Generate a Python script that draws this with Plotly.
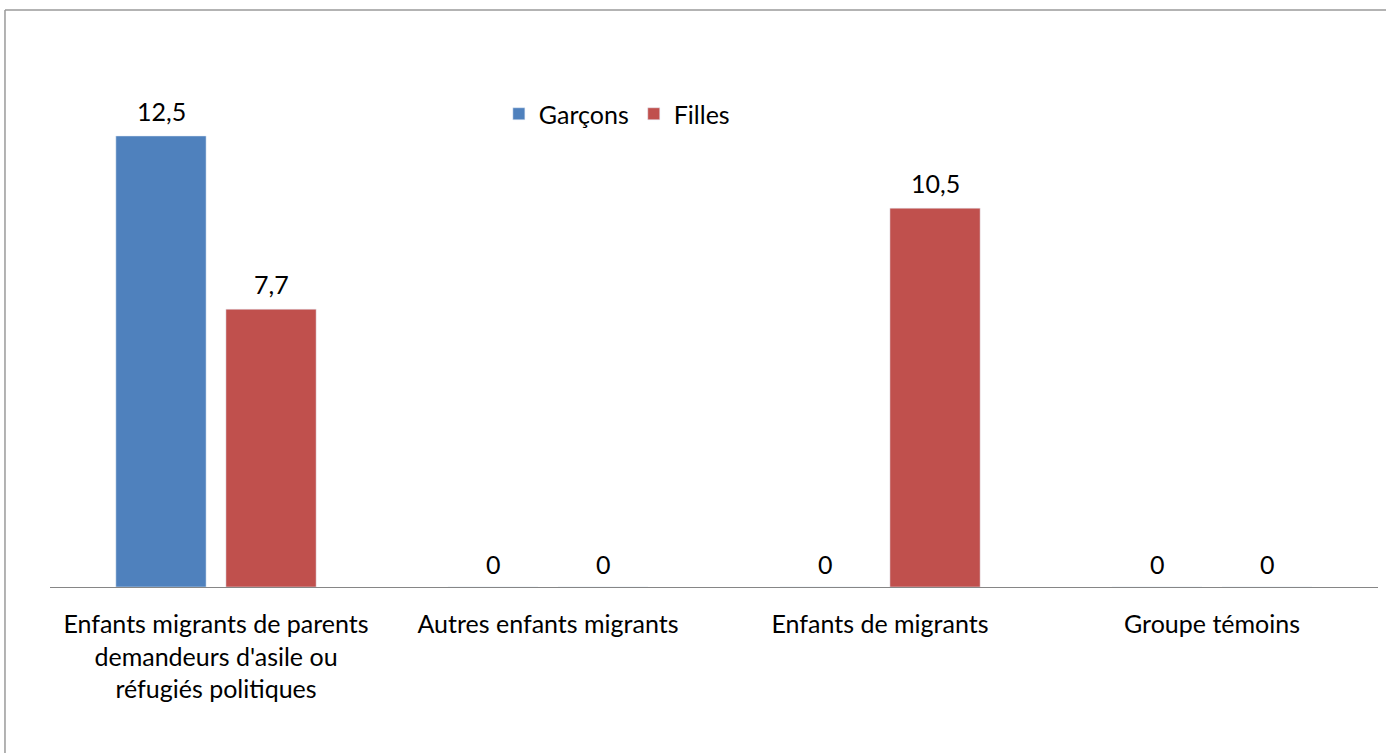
import plotly.graph_objs as go

# Data
categories = [
    "Enfants migrants de parents<br>demandeurs d'asile ou<br>réfugiés politiques",
    "Autres enfants migrants",
    "Enfants de migrants",
    "Groupe témoins",
]
garcons = [12.5, 0, 0, 0]
filles = [7.7, 0, 10.5, 0]

FONT = "Lato, Calibri, Carlito, sans-serif"
FS = 25

fig = go.Figure()
fig.add_trace(go.Bar(x=categories, y=garcons, name="Garçons", marker_color="#4F81BD"))
fig.add_trace(go.Bar(x=categories, y=filles, name="Filles", marker_color="#C0504D"))

# value labels above each bar (decimal comma)
for vals, shift in [(garcons, -55), (filles, 55)]:
    for cat, v in zip(categories, vals):
        fig.add_annotation(
            x=cat, y=v, text=f"{v:g}".replace(".", ","),
            xshift=shift, yshift=25 if v else 23, yanchor="middle", showarrow=False,
            font=dict(size=FS, family=FONT, color="black"),
        )

fig.update_layout(
    width=1386, height=753,
    margin=dict(l=50, r=8, t=40, b=166),
    paper_bgcolor="white", plot_bgcolor="white",
    barmode="group", bargap=0.337, bargroupgap=0.18,
    font=dict(family=FONT, size=FS, color="black"),
    showlegend=True,
    legend=dict(
        orientation="h", x=0.338, y=0.8647, xanchor="left", yanchor="middle",
        font=dict(size=FS), traceorder="normal", bgcolor="rgba(0,0,0,0)",
    ),
)
fig.update_xaxes(
    range=[-0.5, 3.5], showline=True, linecolor="#868686", linewidth=1,
    ticks="", showgrid=False, ticklabelstandoff=15, automargin=False,
    tickfont=dict(size=FS, family=FONT, color="black"),
)
fig.update_yaxes(range=[0, 15.16], visible=False, showgrid=False, automargin=False)

# outer chart border: only the top and left edges fall inside the picture
border = dict(color="#9A9A9A", width=1.5)
fig.add_shape(type="line", xref="paper", yref="paper",
              x0=-0.0339, x1=1.01, y0=1.0548, y1=1.0548, line=border)
fig.add_shape(type="line", xref="paper", yref="paper",
              x0=-0.0339, x1=-0.0339, y0=-0.31, y1=1.0548, line=border)

fig.write_html(
    "out.html",
    config={"displayModeBar": False},
    post_script=(
        "document.body.style.margin='0';"
        "document.body.style.overflow='hidden';"
        "document.documentElement.style.overflow='hidden';"
    ),
)
